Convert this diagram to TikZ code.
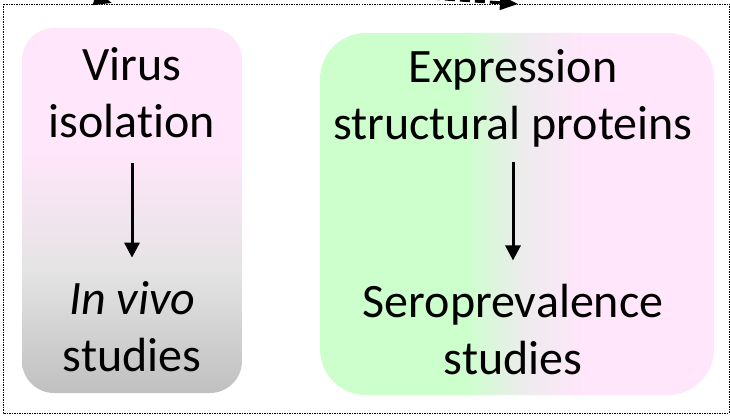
\documentclass[tikz,border=0pt]{standalone}
\usepackage{fontspec}
\setmainfont[Ligatures=NoCommon]{Carlito}
\usetikzlibrary{arrows.meta}

\definecolor{pinkbg}{RGB}{255,230,250}
\definecolor{lightbg}{RGB}{228,228,228}
\definecolor{darkbg}{RGB}{192,192,192}
\definecolor{greenbg}{RGB}{204,255,204}
\definecolor{midbg}{RGB}{236,236,236}

\begin{document}
\begin{tikzpicture}[x=1pt,y=-1pt,
    lbl/.style={font=\fontsize{48pt}{57pt}\selectfont, align=center, inner sep=0pt},
    flow/.style={-{Triangle[width=15pt,length=15pt]}, line width=3pt},
    feed/.style={-{Triangle[width=14pt,length=18pt]}, line width=3pt, dash pattern=on 10pt off 5pt}]
        \useasboundingbox (0,0) rectangle (730,419);
        \clip (0,0) rectangle (730,419);

        % left box
        \begin{scope}
            \clip[rounded corners=32pt] (22,28) rectangle (242,393);
            \fill[pinkbg] (22,28) rectangle (242,152);
            \shade[top color=pinkbg, bottom color=lightbg] (22,151) rectangle (242,271);
            \shade[top color=lightbg, bottom color=darkbg] (22,270) rectangle (242,393);
        \end{scope}

        % right box
        \begin{scope}
            \clip[rounded corners=46pt] (320,33) rectangle (714,395);
            \fill[greenbg] (320,33) rectangle (466,395);
            \shade[left color=greenbg, right color=midbg] (465,33) rectangle (521,395);
            \shade[left color=midbg, right color=pinkbg] (520,33) rectangle (582,395);
            \fill[pinkbg] (581,33) rectangle (714,395);
        \end{scope}

        \draw[line width=0.8pt, dash pattern=on 1.5pt off 1pt] (3,4) rectangle (729,413);

        \node[lbl] (virus) at (132,93) {Virus\\isolation};
        \node[lbl] (vivo) at (132,327) {\textit{In vivo}\\studies};
        \node[lbl] (expr) at (513,98) {Expression\\structural proteins};
        \node[lbl] (sero) at (513,330) {Seroprevalence\\studies};

        \draw[flow, shorten <=25pt, shorten >=24pt] (virus) -- (vivo);
        \draw[flow, shorten <=15pt, shorten >=24pt] (expr) -- (sero);

        % arrows entering from above
        \coordinate (inA) at (60,-12);
        \coordinate (tipA) at (112,3);
        \coordinate (inB) at (400,-4);
        \coordinate (tipB) at (518,4);
        \draw[feed] (inA) -- (tipA);
        \draw[feed] (inB) -- (tipB);
    \end{tikzpicture}
\end{document}
